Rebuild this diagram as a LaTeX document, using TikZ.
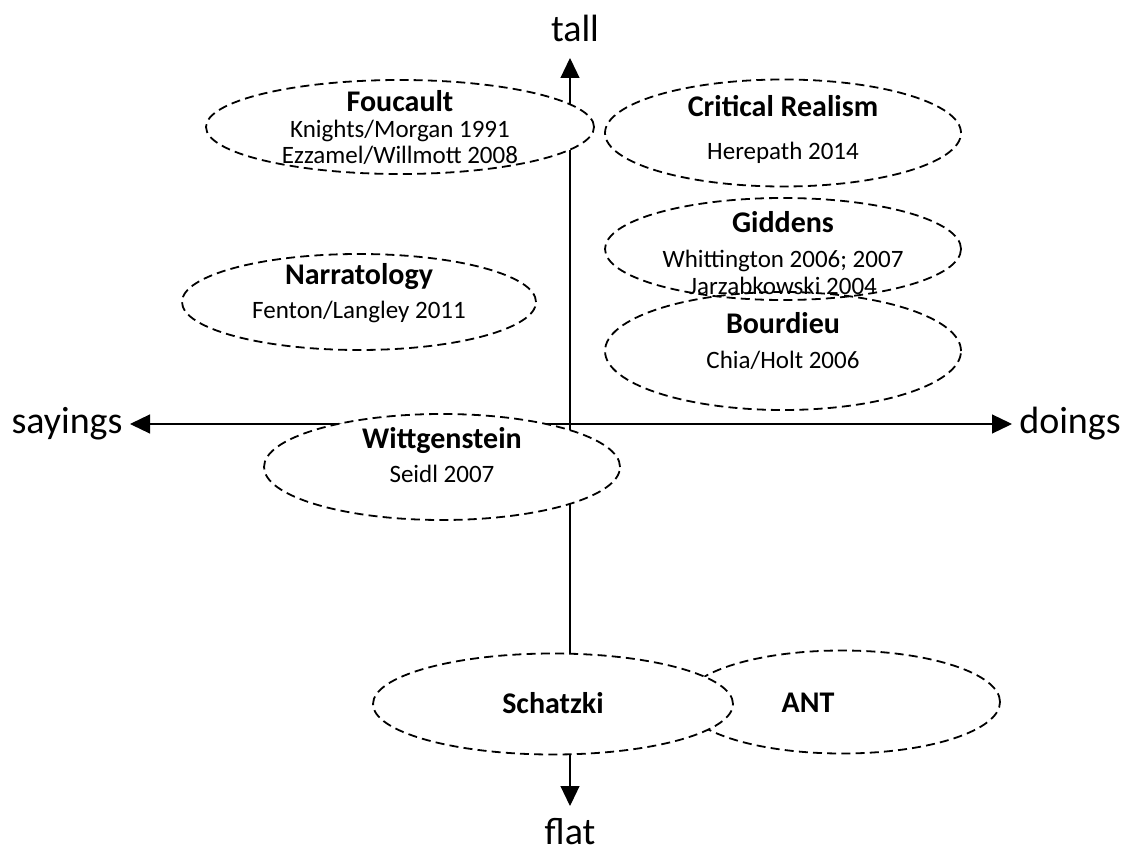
\documentclass[tikz,border=0pt]{standalone}
\usepackage{fontspec}
\setmainfont{Carlito}
\usetikzlibrary{arrows.meta,shapes.geometric}

\tikzset{
  blob/.style={ellipse, draw, dash pattern=on 4.5pt off 2.6pt, line width=0.9pt, fill=white, inner sep=0pt},
  txt/.style={align=center, font=\fontsize{12.5}{12.5}\selectfont},
  axislabel/.style={font=\fontsize{19}{22}\selectfont, inner sep=0pt},
  axis/.style={line width=0.6pt, {Triangle[length=10pt,width=9.5pt]}-{Triangle[length=10pt,width=9.5pt]}}
}
\newcommand{\ttl}[1]{{\fontsize{15}{15}\selectfont\bfseries #1}}

\begin{document}
\begin{tikzpicture}[x=0.5pt,y=-0.5pt]
			%%%%% START %%%%%
			\useasboundingbox (0,0) rectangle (1133,855);
			
			% axes
			\coordinate (tallEnd) at (570,58);
			\coordinate (flatEnd) at (570,806);
			\coordinate (sayEnd) at (130,424);
			\coordinate (doEnd) at (1012,424);
			\draw[axis] (tallEnd) -- (flatEnd);
			\draw[axis] (sayEnd) -- (doEnd);
			
			\node[axislabel] (tall) at (575,28) {tall};
			\node[axislabel] (flat) at (570,832) {flat};
			\node[axislabel] (sayings) at (67,424) {sayings};
			\node[axislabel] (doings) at (1070,424) {doings};
			
			% ellipses
			\node[blob, minimum width=194pt, minimum height=47pt] (foucault) at (400,127) {};
			\node[blob, minimum width=178pt, minimum height=53.5pt] (critreal) at (783,133) {};
			\node[blob, fill=none, minimum width=178pt, minimum height=51pt] (giddens) at (783,249) {};
			\node[blob, fill=none, minimum width=178pt, minimum height=59pt] (bourdieu) at (783,351) {};
			\node[blob, minimum width=177pt, minimum height=48pt] (narrat) at (359,302) {};
			\node[blob, minimum width=178pt, minimum height=53pt] (wittg) at (442,467) {};
			\node[blob, minimum width=158pt, minimum height=51.5pt] (ant) at (842,702) {};
			\node[blob, minimum width=180pt, minimum height=50.5pt] (schatzki) at (553,704) {};
			
			% texts
			\node[txt] (foucaultT) at (400,128) {\ttl{Foucault}\\[0.5pt]Knights/Morgan 1991\\[0.5pt]Ezzamel/Willmott 2008};
			\node[txt] (critrealT) at (783,129) {\ttl{Critical Realism}\\[9pt]Herepath 2014};
			\node[txt] (giddensT) at (783,253) {\ttl{Giddens}\\[5pt]Whittington 2006; 2007\\[1pt]Jarzabkowski 2004};
			\node[txt] (bourdieuT) at (783,341) {\ttl{Bourdieu}\\[5pt]Chia/Holt 2006};
			\node[txt] (narratT) at (359,293) {\ttl{Narratology}\\[4.5pt]Fenton/Langley 2011};
			\node[txt] (wittgT) at (442,455) {\ttl{Wittgenstein}\\[4.5pt]Seidl 2007};
			\node[txt] (schatzkiT) at (553,703) {\ttl{Schatzki}};
			\node[txt] (antT) at (808,703) {\ttl{ANT}};
			
			%%%%% END %%%%%
\end{tikzpicture}
\end{document}
